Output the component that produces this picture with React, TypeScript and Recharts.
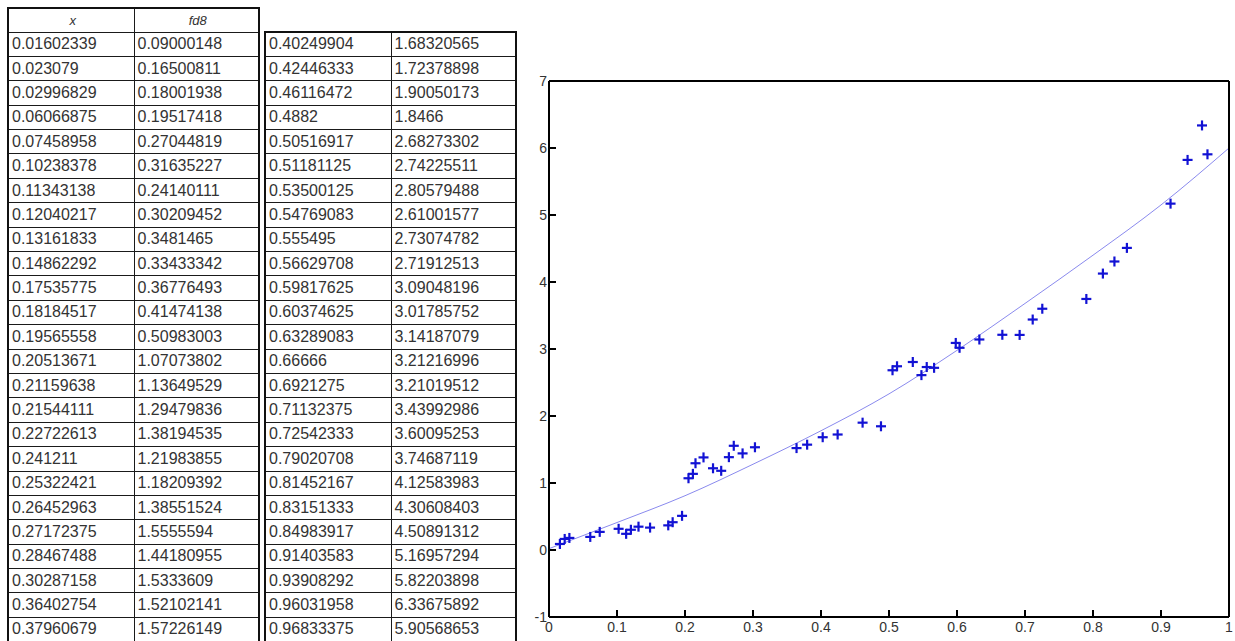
import React from 'react'
import { ComposedChart, Scatter, Line, XAxis, YAxis } from 'recharts'

// sample points, as listed in the table
const xValues = [
  0.01602339, 0.023079, 0.02996829, 0.06066875, 0.07458958, 0.10238378, 0.11343138, 0.12040217,
  0.13161833, 0.14862292, 0.17535775, 0.18184517, 0.19565558, 0.20513671, 0.21159638, 0.21544111,
  0.22722613, 0.241211, 0.25322421, 0.26452963, 0.27172375, 0.28467488, 0.30287158, 0.36402754,
  0.37960679, 0.40249904, 0.42446333, 0.46116472, 0.4882, 0.50516917, 0.51181125, 0.53500125,
  0.54769083, 0.555495, 0.56629708, 0.59817625, 0.60374625, 0.63289083, 0.66666, 0.6921275,
  0.71132375, 0.72542333, 0.79020708, 0.81452167, 0.83151333, 0.84983917, 0.91403583, 0.93908292,
  0.96031958, 0.96833375,
]
const fd8Values = [
  0.09000148, 0.16500811, 0.18001938, 0.19517418, 0.27044819, 0.31635227, 0.24140111, 0.30209452,
  0.3481465, 0.33433342, 0.36776493, 0.41474138, 0.50983003, 1.07073802, 1.13649529, 1.29479836,
  1.38194535, 1.21983855, 1.18209392, 1.38551524, 1.5555594, 1.44180955, 1.5333609, 1.52102141,
  1.57226149, 1.68320565, 1.72378898, 1.90050173, 1.8466, 2.68273302, 2.74225511, 2.80579488,
  2.61001577, 2.73074782, 2.71912513, 3.09048196, 3.01785752, 3.14187079, 3.21216996, 3.21019512,
  3.43992986, 3.60095253, 3.74687119, 4.12583983, 4.30608403, 4.50891312, 5.16957294, 5.82203898,
  6.33675892, 5.90568653,
]

// fitted curve
const fitX = [0, 0.1, 0.2, 0.3, 0.4, 0.5, 0.6, 0.7, 0.8, 0.9, 1]
const fitY = [0.02, 0.41, 0.81, 1.28, 1.78, 2.33, 2.98, 3.68, 4.4, 5.15, 6.0]

const xTicks = [0, 0.1, 0.2, 0.3, 0.4, 0.5, 0.6, 0.7, 0.8, 0.9, 1]
const yTicks = [-1, 0, 1, 2, 3, 4, 5, 6, 7]

const points = xValues.map((x, i) => ({ x, y: fd8Values[i] }))
const fitData = fitX.map((x, i) => ({ x, y: fitY[i] }))

const half = 25

const cellStyle: React.CSSProperties = {
  border: '1px solid #1a1a1a',
  padding: '0 0 0 3px',
  height: 24.4,
  lineHeight: '1',
  whiteSpace: 'nowrap',
  overflow: 'hidden',
  color: '#333',
  boxSizing: 'border-box',
}

const headStyle: React.CSSProperties = {
  ...cellStyle,
  height: 24,
  textAlign: 'center',
  fontStyle: 'italic',
  fontSize: 13,
}

const tableStyle: React.CSSProperties = {
  position: 'absolute',
  borderCollapse: 'collapse',
  tableLayout: 'fixed',
  border: '2px solid #111',
  fontFamily: '"Liberation Sans", Arial, sans-serif',
  fontSize: 16,
  background: '#fff',
}

function DataTable({ rows, left, top, header }: { rows: number[]; left: number; top: number; header?: boolean }) {
  return (
    <table style={{ ...tableStyle, left, top }}>
      <colgroup>
        <col style={{ width: 126 }} />
        <col style={{ width: 125 }} />
      </colgroup>
      <tbody>
        {header && (
          <tr>
            <td style={headStyle}>x</td>
            <td style={headStyle}>fd8</td>
          </tr>
        )}
        {rows.map(i => (
          <tr key={i}>
            <td style={cellStyle}>{xValues[i]}</td>
            <td style={cellStyle}>{fd8Values[i]}</td>
          </tr>
        ))}
      </tbody>
    </table>
  )
}

const PlusMark = (props: any) => {
  const { cx, cy } = props
  if (cx == null || cy == null) return null
  return (
    <g stroke="#1212d4" strokeWidth={2.2}>
      <line x1={cx - 5} x2={cx + 5} y1={cy} y2={cy} />
      <line x1={cx} x2={cx} y1={cy - 5} y2={cy + 5} />
    </g>
  )
}

const tickFont = { fontSize: 14, fill: '#333', fontFamily: '"Liberation Sans", Arial, sans-serif' }
const axisStroke = { stroke: '#000', strokeWidth: 2 }

export default function App() {
  const leftRows = Array.from({ length: half }, (_, i) => i)
  const rightRows = Array.from({ length: half }, (_, i) => i + half)

  return (
    <div style={{ position: 'absolute', left: 0, top: 0, width: 1235, height: 641, background: '#fff', overflow: 'hidden' }}>
      <DataTable rows={leftRows} left={7} top={7} header />
      <DataTable rows={rightRows} left={264} top={31} />

      <div style={{ position: 'absolute', left: 500, top: 0 }}>
        <ComposedChart width={735} height={641} margin={{ top: 80, right: 5, left: 19, bottom: 0 }}>
          <XAxis
            xAxisId={0}
            dataKey="x"
            type="number"
            domain={[0, 1]}
            ticks={xTicks}
            interval={0}
            allowDataOverflow
            height={24}
            tickSize={-7}
            tickMargin={12}
            axisLine={axisStroke}
            tickLine={axisStroke}
            tick={tickFont}
          />
          <XAxis
            xAxisId="top"
            orientation="top"
            dataKey="x"
            type="number"
            domain={[0, 1]}
            ticks={xTicks}
            interval={0}
            height={1}
            tickSize={-7}
            tick={false}
            axisLine={axisStroke}
            tickLine={axisStroke}
          />
          <YAxis
            yAxisId={0}
            type="number"
            domain={[-1, 7]}
            ticks={yTicks}
            interval={0}
            allowDataOverflow
            width={30}
            tickSize={-7}
            tickMargin={9}
            axisLine={axisStroke}
            tickLine={axisStroke}
            tick={tickFont}
          />
          <YAxis
            yAxisId="right"
            orientation="right"
            type="number"
            domain={[-1, 7]}
            ticks={yTicks}
            interval={0}
            width={1}
            tickSize={-7}
            tick={false}
            axisLine={axisStroke}
            tickLine={axisStroke}
          />
          <Line
            data={fitData}
            dataKey="y"
            type="monotone"
            stroke="#8a8aee"
            strokeWidth={1}
            dot={false}
            activeDot={false}
            isAnimationActive={false}
          />
          <Scatter data={points} dataKey="y" shape={PlusMark} isAnimationActive={false} />
        </ComposedChart>
      </div>
    </div>
  )
}
